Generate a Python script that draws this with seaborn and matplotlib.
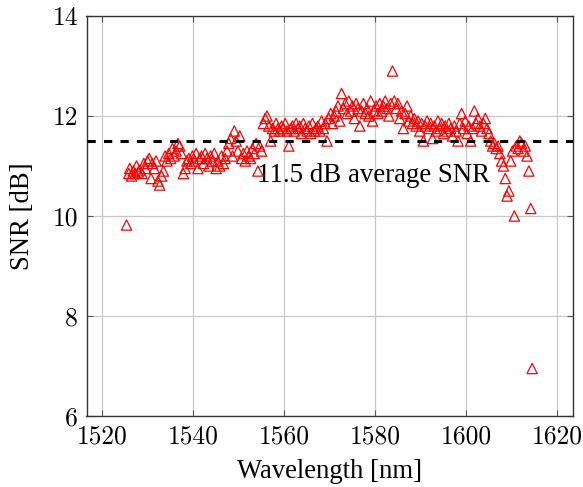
import matplotlib
matplotlib.use("Agg")
import matplotlib.pyplot as plt
import seaborn as sns
import pandas as pd

wavelength = [
    1525.3, 1525.8, 1526.0, 1526.4, 1526.8, 1527.2, 1527.5, 1527.9, 1528.3, 1528.7,
    1529.1, 1529.5, 1529.9, 1530.3, 1530.7, 1531.0, 1531.4, 1531.8, 1532.2, 1532.6,
    1533.0, 1533.4, 1533.8, 1534.2, 1534.6, 1535.0, 1535.4, 1535.8, 1536.2, 1536.6,
    1537.0, 1537.4, 1537.8, 1538.2, 1538.6, 1539.0, 1539.4, 1539.8, 1540.2, 1540.6,
    1541.0, 1541.4, 1541.8, 1542.2, 1542.6, 1543.0, 1543.4, 1543.8, 1544.2, 1544.6,
    1545.0, 1545.4, 1545.8, 1546.2, 1546.6, 1547.0, 1547.4, 1547.8, 1548.2, 1548.6,
    1549.0, 1549.4, 1549.8, 1550.2, 1550.6, 1551.0, 1551.4, 1551.8, 1552.2, 1552.6,
    1553.0, 1553.4, 1553.8, 1554.2, 1554.6, 1555.0, 1555.4, 1555.8, 1556.2, 1556.6,
    1557.0, 1557.4, 1557.8, 1558.2, 1558.6, 1559.0, 1559.4, 1559.8, 1560.2, 1560.6,
    1561.0, 1561.4, 1561.8, 1562.2, 1562.6, 1563.0, 1563.4, 1563.8, 1564.2, 1564.6,
    1565.0, 1565.4, 1565.8, 1566.2, 1566.6, 1567.0, 1567.4, 1567.8, 1568.2, 1568.6,
    1569.0, 1569.4, 1569.8, 1570.2, 1570.6, 1571.0, 1571.4, 1571.8, 1572.2, 1572.6,
    1573.0, 1573.4, 1573.8, 1574.2, 1574.6, 1575.0, 1575.4, 1575.8, 1576.2, 1576.6,
    1577.0, 1577.4, 1577.8, 1578.2, 1578.6, 1579.0, 1579.4, 1579.8, 1580.2, 1580.6,
    1581.0, 1581.4, 1581.8, 1582.2, 1582.6, 1583.0, 1583.4, 1583.8, 1584.2, 1584.6,
    1585.0, 1585.4, 1585.8, 1586.2, 1586.6, 1587.0, 1587.4, 1587.8, 1588.2, 1588.6,
    1589.0, 1589.4, 1589.8, 1590.2, 1590.6, 1591.0, 1591.4, 1591.8, 1592.2, 1592.6,
    1593.0, 1593.4, 1593.8, 1594.2, 1594.6, 1595.0, 1595.4, 1595.8, 1596.2, 1596.6,
    1597.0, 1597.4, 1597.8, 1598.2, 1598.6, 1599.0, 1599.4, 1599.8, 1600.2, 1600.6,
    1601.0, 1601.4, 1601.8, 1602.2, 1602.6, 1603.0, 1603.4, 1603.8, 1604.2, 1604.6,
    1605.0, 1605.4, 1605.8, 1606.2, 1606.6, 1607.0, 1607.4, 1607.8, 1608.2, 1608.6,
    1609.0, 1609.4, 1609.8, 1610.2, 1610.6, 1611.0, 1611.4, 1611.8, 1612.2, 1612.6,
    1613.0, 1613.4, 1613.8, 1614.2, 1614.5,
]

snr = [
    9.82, 10.85, 10.95, 10.80, 10.90, 10.85, 11.00, 10.88, 10.92, 10.85,
    11.05, 10.95, 11.10, 11.15, 10.75, 11.05, 10.95, 11.10, 10.70, 10.62,
    10.80, 10.90, 11.20, 11.10, 11.25, 11.15, 11.35, 11.20, 11.30, 11.45,
    11.40, 11.25, 10.85, 10.95, 11.10, 11.15, 11.05, 11.20, 11.10, 11.25,
    10.95, 11.15, 11.20, 11.05, 11.25, 11.15, 11.00, 11.20, 11.10, 11.25,
    10.95, 11.10, 11.00, 11.20, 11.05, 11.15, 11.30, 11.45, 11.55, 11.20,
    11.70, 11.50, 11.30, 11.60, 11.15, 11.25, 11.10, 11.30, 11.20, 11.15,
    11.35, 11.25, 11.45, 10.90, 11.40, 11.30, 11.85, 11.95, 12.00, 11.80,
    11.50, 11.75, 11.70, 11.85, 11.75, 11.70, 11.80, 11.75, 11.85, 11.70,
    11.40, 11.75, 11.80, 11.70, 11.85, 11.75, 11.80, 11.65, 11.85, 11.75,
    11.70, 11.80, 11.65, 11.85, 11.70, 11.75, 11.80, 11.70, 11.90, 11.75,
    11.85, 11.50, 11.95, 12.05, 11.85, 12.00, 12.10, 12.20, 11.90, 12.45,
    12.15, 12.25, 12.05, 12.30, 12.10, 12.20, 11.95, 12.25, 12.15, 11.80,
    12.10, 12.25, 12.05, 12.15, 12.00, 12.30, 11.90, 12.10, 12.20, 12.05,
    12.25, 12.10, 12.20, 12.30, 12.15, 12.00, 12.25, 12.90, 12.30, 12.15,
    12.25, 11.95, 12.10, 11.75, 12.05, 12.20, 11.90, 12.00, 11.85, 11.95,
    11.80, 11.90, 11.70, 11.85, 11.50, 11.80, 11.90, 11.75, 11.85, 11.55,
    11.80, 11.70, 11.90, 11.75, 11.85, 11.65, 11.80, 11.70, 11.85, 11.75,
    11.60, 11.80, 11.70, 11.50, 11.85, 12.05, 11.75, 11.90, 11.65, 11.80,
    11.50, 11.75, 12.10, 11.85, 11.95, 11.80, 11.70, 11.85, 11.95, 11.75,
    11.65, 11.50, 11.40, 11.45, 11.35, 11.40, 11.25, 11.10, 11.00, 10.75,
    10.40, 10.50, 11.10, 11.30, 10.00, 11.40, 11.35, 11.50, 11.45, 11.30,
    11.40, 11.20, 10.90, 10.15, 6.95,
]

avg_snr = 11.5
avg_label = "11.5 dB average SNR"
x_ticks = [1520, 1540, 1560, 1580, 1600, 1620]
y_ticks = [6, 8, 10, 12, 14]

df = pd.DataFrame({"Wavelength": wavelength, "SNR": snr})

sns.set_theme(style="whitegrid")
plt.rcParams["font.family"] = ["Liberation Serif", "DejaVu Serif"]
plt.rcParams["mathtext.fontset"] = "stix"

fig = plt.figure(figsize=(5.83, 4.87), dpi=100)
ax = fig.add_axes([86.5 / 583, 71 / 487, 486.5 / 583, 400 / 487])

sns.scatterplot(data=df, x="Wavelength", y="SNR", ax=ax, marker="^",
                s=55, facecolor="none", edgecolor="red", linewidth=0.9,
                zorder=3)

ax.axhline(avg_snr, color="black", lw=2.2, dashes=(2.7, 2.7), zorder=4)
ax.text(1579.6, 10.82, avg_label, fontsize=19.4, ha="center", va="center",
        color="black", zorder=5)

ax.set_xlim(1516.5, 1623.5)
ax.set_ylim(6, 14)
ax.set_xticks(x_ticks)
ax.set_yticks(y_ticks)
ax.grid(True, color="#c8c8c8", linewidth=0.9)
ax.set_facecolor("white")
for sp in ax.spines.values():
    sp.set_color("#333333")
    sp.set_linewidth(1.0)
ax.tick_params(direction="in", length=4, width=0.8, color="#555555",
               top=True, right=True, bottom=True, left=True,
               labelsize=18.4, labelcolor="black")
ax.tick_params(axis="x", pad=6)
ax.tick_params(axis="y", pad=6)
for lab in ax.get_xticklabels() + ax.get_yticklabels():
    lab.set_family(["cmr10", "Liberation Serif"])
ax.set_xlabel("Wavelength [nm]", fontsize=19.2, color="black", labelpad=8)
ax.set_ylabel("SNR [dB]", fontsize=19.2, color="black", labelpad=13)

fig.savefig("out.png", dpi=100, facecolor="white")
